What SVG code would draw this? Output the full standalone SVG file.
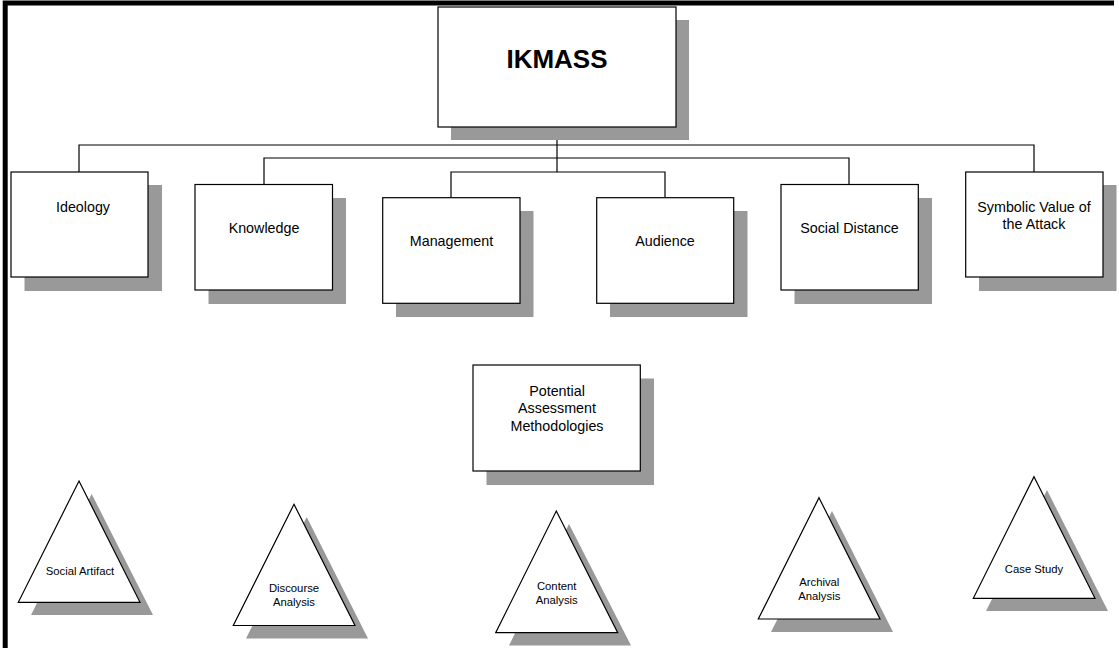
<svg xmlns="http://www.w3.org/2000/svg" width="1119" height="648" viewBox="0 0 1119 648">
<style>
.box{fill:#fff;stroke:#000;stroke-width:1.2}
.sh{fill:#999;stroke:none}
.lbl{font-family:"Liberation Sans",Arial,sans-serif;font-size:14.3px;fill:#000;text-anchor:middle}
.tl{font-family:"Liberation Sans",Arial,sans-serif;font-size:11.3px;fill:#000;text-anchor:middle}
.title{font-family:"Liberation Sans",Arial,sans-serif;font-size:26px;font-weight:bold;fill:#000;text-anchor:middle}
.con{fill:none;stroke:#000;stroke-width:1.2}
</style>
<rect width="1119" height="648" fill="#fff"/>
<path d="M5.2 648 V3 H1114" fill="none" stroke="#000" stroke-width="5"/>
<g id="connectors">
<path class="con" d="M557 127 V172"/>
<path class="con" d="M79 172 V145 H1034 V172"/>
<path class="con" d="M264 184 V158 H849 V184"/>
<path class="con" d="M451 197 V172 H665 V197"/>
</g>
<g id="ikmass">
<rect class="sh" x="451" y="20" width="238" height="120"/>
<rect class="box" x="438" y="7" width="238" height="120"/>
<text class="title" x="557" y="68">IKMASS</text>
</g>
<g id="ideology">
<rect class="sh" x="24.5" y="185" width="137.5" height="106"/>
<rect class="box" x="11" y="172" width="137" height="105"/>
<text class="lbl" x="83" y="212">Ideology</text>
</g>
<g id="knowledge">
<rect class="sh" x="208.5" y="198" width="137.5" height="106"/>
<rect class="box" x="195" y="184.5" width="137.5" height="105.5"/>
<text class="lbl" x="264" y="232.5">Knowledge</text>
</g>
<g id="management">
<rect class="sh" x="396" y="211" width="137.5" height="106"/>
<rect class="box" x="382.7" y="197.7" width="137.3" height="105.6"/>
<text class="lbl" x="451.5" y="246">Management</text>
</g>
<g id="audience">
<rect class="sh" x="610" y="211" width="137.5" height="106"/>
<rect class="box" x="596.7" y="197.7" width="137" height="105.6"/>
<text class="lbl" x="665" y="246">Audience</text>
</g>
<g id="social-distance">
<rect class="sh" x="794.5" y="198" width="137.5" height="106"/>
<rect class="box" x="781" y="184.5" width="137.3" height="105.5"/>
<text class="lbl" x="849.5" y="232.5">Social Distance</text>
</g>
<g id="symbolic-value">
<rect class="sh" x="979" y="185" width="137.5" height="106"/>
<rect class="box" x="965.7" y="172" width="137.3" height="105"/>
<text class="lbl" x="1034" y="211.5">Symbolic Value of</text>
<text class="lbl" x="1034" y="229">the Attack</text>
</g>
<g id="potential">
<rect class="sh" x="486.5" y="378.5" width="167.5" height="106.5"/>
<rect class="box" x="473" y="365" width="167.3" height="106"/>
<text class="lbl" x="557" y="396">Potential</text>
<text class="lbl" x="557" y="413.3">Assessment</text>
<text class="lbl" x="557" y="430.5">Methodologies</text>
</g>
<g id="social-artifact">
<polygon class="sh" points="91.7,494 153,615 31,615"/>
<polygon class="box" points="79,481 140,602.3 18.3,602.3"/>
<text class="tl" x="80" y="575">Social Artifact</text>
</g>
<g id="discourse-analysis">
<polygon class="sh" points="306.7,517 368,638.5 246,638.5"/>
<polygon class="box" points="294,504.3 355,625.5 233.3,625.5"/>
<text class="tl" x="294" y="592.3">Discourse</text>
<text class="tl" x="294" y="606">Analysis</text>
</g>
<g id="content-analysis">
<polygon class="sh" points="569,524 631,645.5 509,645.5"/>
<polygon class="box" points="556.3,511 617.7,632.7 495.7,632.7"/>
<text class="tl" x="556.7" y="590">Content</text>
<text class="tl" x="556.7" y="603.5">Analysis</text>
</g>
<g id="archival-analysis">
<polygon class="sh" points="832,511 893,632 771,632"/>
<polygon class="box" points="819,497.7 880,619 758.3,619"/>
<text class="tl" x="819.3" y="586">Archival</text>
<text class="tl" x="819.3" y="600">Analysis</text>
</g>
<g id="case-study">
<polygon class="sh" points="1047,490 1108,611 986,611"/>
<polygon class="box" points="1034,476.7 1095,598.3 973.3,598.3"/>
<text class="tl" x="1034" y="573">Case Study</text>
</g>
</svg>
